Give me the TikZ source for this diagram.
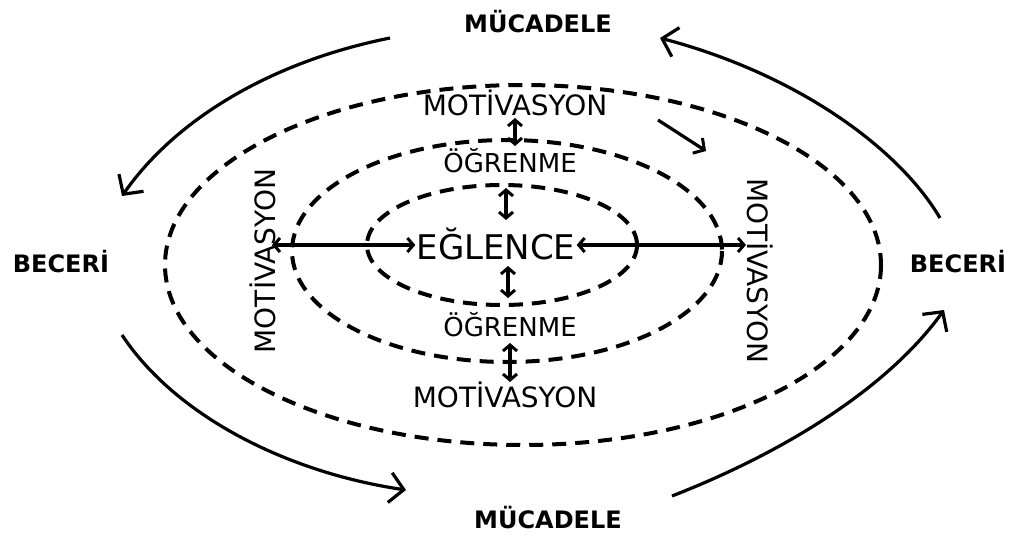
\documentclass[tikz,border=0pt]{standalone}
\usepackage{fontspec}
\setmainfont{DejaVu Sans}
\usetikzlibrary{arrows.meta}
\begin{document}
\begin{tikzpicture}[x=1pt,y=-1pt,
  dashring/.style={line width=4pt,dash pattern=on 14pt off 9pt},
  bigarrow/.style={line width=3.2pt,-{Straight Barb[length=14pt,width=30pt,line width=3.2pt]}},
  dblarrow/.style={line width=3.2pt,{Straight Barb[length=6pt,width=14pt,line width=3pt]}-{Straight Barb[length=6pt,width=14pt,line width=3pt]}},
  lbl/.style={inner sep=1pt,font=\fontsize{28}{32}\selectfont},
  oglbl/.style={inner sep=1pt,font=\fontsize{26}{30}\selectfont},
  boldlbl/.style={inner sep=1pt,font=\fontsize{24}{28}\selectfont\bfseries},
]
\useasboundingbox[fill=white] (0,0) rectangle (1018,538);
% rings
\draw[dashring] (523,265) ellipse (358 and 180);
\draw[dashring] (507,251) ellipse (215 and 111);
\draw[dashring] (502,245) ellipse (135 and 60);
% labels
\node[boldlbl] (mt) at (538,22) {MÜCADELE};
\node[boldlbl] (mb) at (548,518) {MÜCADELE};
\node[boldlbl] (bl) at (61,262) {BECERİ};
\node[boldlbl] (br) at (958,262) {BECERİ};
\node[lbl] (mot1) at (515,103) {MOTİVASYON};
\node[oglbl] (og1) at (510,161) {ÖĞRENME};
\node[inner sep=1pt,font=\fontsize{34}{38}\selectfont] (eg) at (496,244) {EĞLENCE};
\node[oglbl] (og2) at (510,325) {ÖĞRENME};
\node[lbl] (mot2) at (505,395) {MOTİVASYON};
\node[lbl,rotate=90] (motl) at (263,261) {MOTİVASYON};
\node[lbl,rotate=-90] (motr) at (760,271) {MOTİVASYON};
% vertical double arrows
\coordinate (v1a) at (515,118); \coordinate (v1b) at (515,146);
\coordinate (v2a) at (506,188); \coordinate (v2b) at (506,220);
\coordinate (v3a) at (508,266); \coordinate (v3b) at (508,298);
\coordinate (v4a) at (510,343); \coordinate (v4b) at (510,382);
\draw[dblarrow] (v1a) -- (v1b);
\draw[dblarrow] (v2a) -- (v2b);
\draw[dblarrow] (v3a) -- (v3b);
\draw[dblarrow] (v4a) -- (v4b);
% horizontal double arrows
\coordinate (hl) at (272,245);
\coordinate (hr) at (746,245);
\draw[dblarrow] (hl) -- (eg.west |- hl);
\draw[dblarrow] (eg.east |- hr) -- (hr);
% small arrow
\coordinate (sa1) at (658,120);
\coordinate (sa2) at (706,151);
\draw[line width=3.2pt,-{Straight Barb[length=8pt,width=18pt,line width=3pt]}] (sa1) -- (sa2);
% big curved arrows
\coordinate (a1s) at (390,38);  \coordinate (a1e) at (122,196);
\coordinate (a2s) at (940,218); \coordinate (a2e) at (660,38);
\coordinate (a3s) at (122,335); \coordinate (a3e) at (406,490);
\coordinate (a4s) at (672,496); \coordinate (a4e) at (944,310);
\draw[bigarrow] (a1s) .. controls (270,62) and (175,120) .. (a1e);
\draw[bigarrow] (a2s) .. controls (900,150) and (800,75) .. (a2e);
\draw[bigarrow] (a3s) .. controls (175,415) and (285,472) .. (a3e);
\draw[bigarrow] (a4s) .. controls (790,450) and (890,385) .. (a4e);
\end{tikzpicture}
\end{document}
